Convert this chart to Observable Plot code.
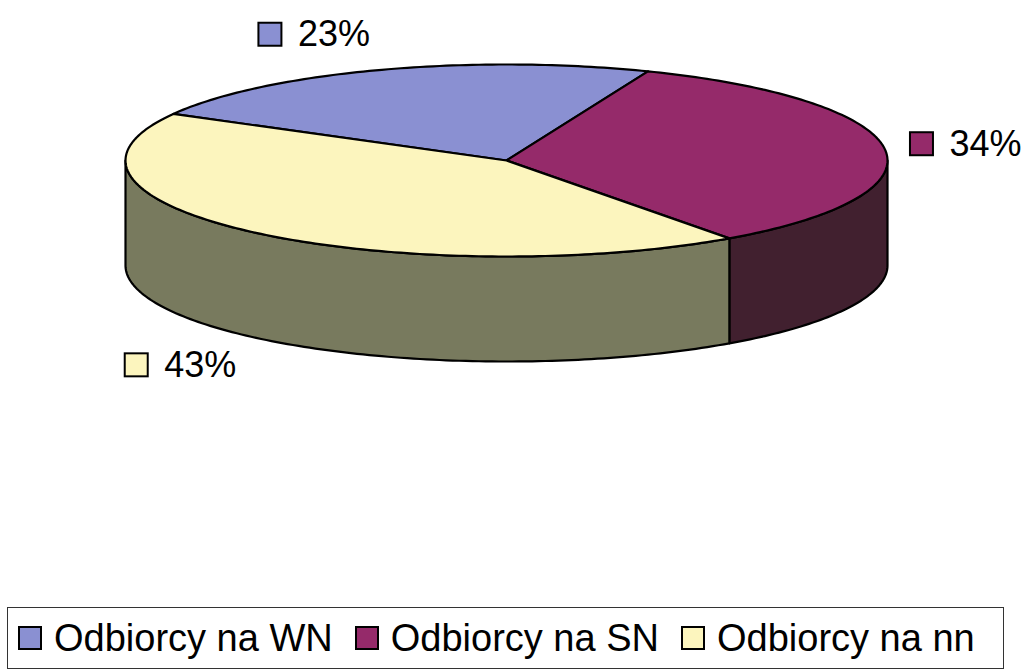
<!DOCTYPE html>
<html>
<head>
<meta charset="utf-8">
<script src="https://cdn.jsdelivr.net/npm/d3@7"></script>
<script src="https://cdn.jsdelivr.net/npm/@observablehq/plot@0.6"></script>
<style>
  html, body { margin: 0; padding: 0; background: #fff; }
  body { width: 1024px; height: 672px; overflow: hidden; font-family: "Liberation Sans", Arial, sans-serif; }
  #legend {
    box-sizing: border-box;
    margin-left: 7px; margin-top: 7px;
    width: 997px; height: 62px;
    border: 1.5px solid #333;
    display: flex; align-items: center;
    padding-left: 10px;
    font-size: 38px; color: #000;
    white-space: nowrap;
  }
  #legend .item { display: flex; align-items: center; margin-right: 22px; flex: 0 0 auto; white-space: nowrap; }
  #legend .sw { width: 20px; height: 20px; border: 2px solid #000; margin-right: 12px; flex: 0 0 auto; }
</style>
</head>
<body>
<div id="chart"></div>
<div id="legend"></div>
<script>
// ---- data ----
const categories = ["Odbiorcy na WN", "Odbiorcy na SN", "Odbiorcy na nn"];
const shares = [23, 34, 43];
const labels = ["23%", "34%", "43%"];

// ---- styles / layout ----
const topColors = ["#8A90D2", "#952A6A", "#FCF5BE"];
const sideColors = ["#454870", "#41202F", "#787A5E"];
const W = 1024, H = 600;
const cx = 506, cy = 160, rx = 381, ry = 96, depth = 105;
const startAngle = -61;
const font = "36px 'Liberation Sans', Arial, sans-serif";

const total = d3.sum(shares);
const rad = a => a * Math.PI / 180;
const px = a => cx + rx * Math.sin(rad(a));
const py = (a, dy = 0) => cy - ry * Math.cos(rad(a)) + dy;
function arc(a0, a1, dy, id) {
  const n = Math.max(2, Math.ceil(Math.abs(a1 - a0) / 1) + 1);
  return d3.range(n).map(i => {
    const a = a0 + (a1 - a0) * i / (n - 1);
    return {id, x: px(a), y: py(a, dy)};
  });
}

// angles
let acc = startAngle;
const slices = shares.map((v, i) => {
  const a0 = acc, a1 = acc + v / total * 360;
  acc = a1;
  return {i, a0, a1, mid: (a0 + a1) / 2};
});

const marks = [];
// sides (visible front half 90..270)
slices.forEach(s => {
  const s0 = Math.max(s.a0, 90), s1 = Math.min(s.a1, 270);
  if (s1 > s0) {
    const pts = [...arc(s0, s1, 0, "side" + s.i), ...arc(s1, s0, depth, "side" + s.i)];
    marks.push(Plot.line(pts, {x: "x", y: "y", fill: sideColors[s.i], stroke: "#000", strokeWidth: 2.2, curve: "linear-closed", strokeLinejoin: "round"}));
  }
});
// top faces
slices.forEach(s => {
  const pts = [{id: "top" + s.i, x: cx, y: cy}, ...arc(s.a0, s.a1, 0, "top" + s.i)];
  marks.push(Plot.line(pts, {x: "x", y: "y", fill: topColors[s.i], stroke: "#000", strokeWidth: 2.2, curve: "linear-closed", strokeLinejoin: "round"}));
});

// labels
const ctx = document.createElement("canvas").getContext("2d");
ctx.font = font;
const box = 23, gap = 16, off = 26;
const labelRows = slices.map(s => {
  const sn = Math.sin(rad(s.mid)), cs = Math.cos(rad(s.mid));
  const ex = px(s.mid), ey = py(s.mid, cs < 0 ? depth : 0);
  const ax = ex + off * sn, ay = ey - off * cs;
  const tw = ctx.measureText(labels[s.i]).width;
  const w = box + gap + tw;
  const left = sn < 0 ? ax - w : ax;
  const top = ay - box * (1 + cs) / 2;
  return {i: s.i, label: labels[s.i], x1: left, x2: left + box, y1: top, y2: top + box, tx: left + box + gap, ty: top + box};
});
marks.push(Plot.rect(labelRows, {x1: "x1", x2: "x2", y1: "y1", y2: "y2", fill: d => topColors[d.i], stroke: "#000", strokeWidth: 2}));
marks.push(Plot.text(labelRows, {x: "tx", y: "ty", text: "label", textAnchor: "start", lineAnchor: "bottom", fontSize: 36, fill: "#000"}));

const chart = Plot.plot({
  width: W, height: H, margin: 0,
  style: {fontFamily: "'Liberation Sans', Arial, sans-serif", background: "#fff", overflow: "visible"},
  x: {domain: [0, W], range: [0, W], axis: null},
  y: {domain: [0, H], range: [0, H], axis: null},
  marks
});
document.getElementById("chart").appendChild(chart);

// legend
const legend = document.getElementById("legend");
categories.forEach((c, i) => {
  const item = document.createElement("div");
  item.className = "item";
  const sw = document.createElement("div");
  sw.className = "sw";
  sw.style.background = topColors[i];
  const t = document.createElement("span");
  t.textContent = c;
  item.appendChild(sw); item.appendChild(t);
  legend.appendChild(item);
});
</script>
</body>
</html>
